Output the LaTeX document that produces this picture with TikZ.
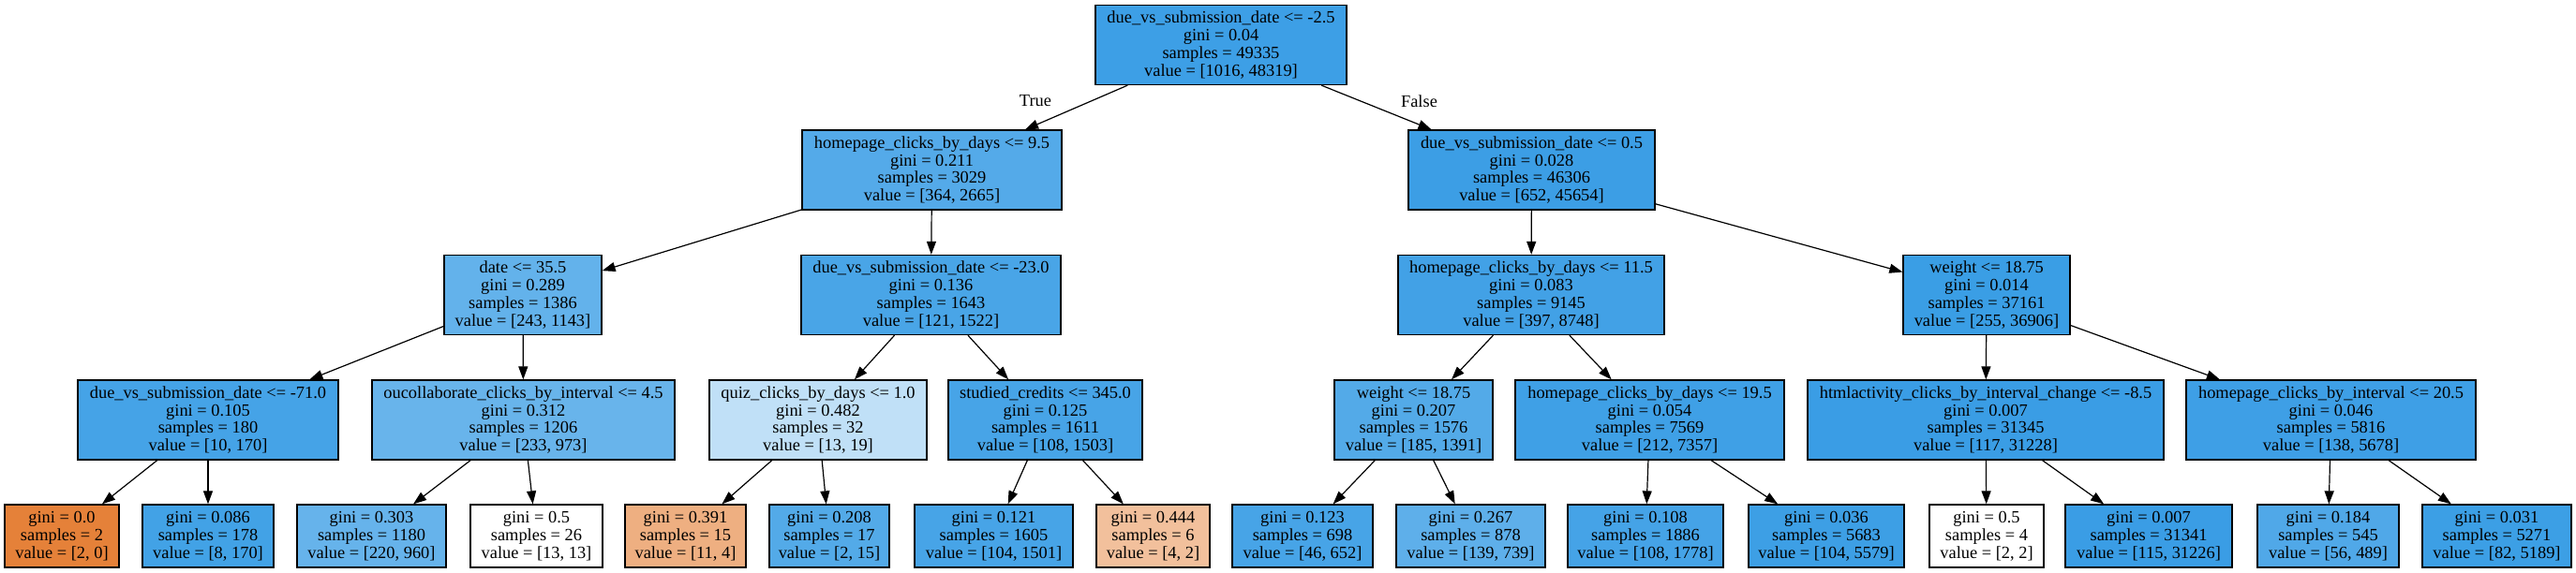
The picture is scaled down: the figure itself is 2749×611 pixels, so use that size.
\documentclass[tikz,border=0pt]{standalone}
\usepackage{fontspec}
\setmainfont{Liberation Serif}
\usetikzlibrary{arrows.meta}
\definecolor{cB}{RGB}{57,157,229}
\definecolor{cO}{RGB}{229,129,57}
\newcommand\nodefont{\fontsize{18.4}{18.9}\selectfont}
\tikzset{
  tn/.style={draw=black, line width=1.3pt, minimum height=85pt, inner sep=0pt, align=center, font=\nodefont},
  leaf/.style={tn, minimum height=67pt},
  edge/.style={line width=1.2pt, -{Triangle[length=14pt,width=10pt]}},
  elabel/.style={font=\nodefont, inner sep=0pt}
}
\begin{document}
\begin{tikzpicture}[x=1pt,y=-1pt]
\fill[white] (0,0) rectangle (2749,611);
\useasboundingbox (0,0) rectangle (2749,611);
% level 0
\node[tn, fill=cB!97.9!white, minimum width=268pt] (n0) at (1303,48) {due\_vs\_submission\_date <= -2.5\\gini = 0.04\\samples = 49335\\value = [1016, 48319]};
% level 1
\node[tn, fill=cB!86.3!white, minimum width=277pt] (n1a) at (994.5,181.5) {homepage\_clicks\_by\_days <= 9.5\\gini = 0.211\\samples = 3029\\value = [364, 2665]};
\node[tn, fill=cB!98.6!white, minimum width=263pt] (n1b) at (1634.5,181.5) {due\_vs\_submission\_date <= 0.5\\gini = 0.028\\samples = 46306\\value = [652, 45654]};
% level 2
\node[tn, fill=cB!78.7!white, minimum width=168pt] (n2a) at (558,315) {date <= 35.5\\gini = 0.289\\samples = 1386\\value = [243, 1143]};
\node[tn, fill=cB!92.0!white, minimum width=277pt] (n2b) at (993.5,315) {due\_vs\_submission\_date <= -23.0\\gini = 0.136\\samples = 1643\\value = [121, 1522]};
\node[tn, fill=cB!95.5!white, minimum width=284pt] (n2c) at (1634,315) {homepage\_clicks\_by\_days <= 11.5\\gini = 0.083\\samples = 9145\\value = [397, 8748]};
\node[tn, fill=cB!99.3!white, minimum width=178pt] (n2d) at (2120,315) {weight <= 18.75\\gini = 0.014\\samples = 37161\\value = [255, 36906]};
% level 3
\node[tn, fill=cB!94.1!white, minimum width=278pt] (n3a) at (222,448.5) {due\_vs\_submission\_date <= -71.0\\gini = 0.105\\samples = 180\\value = [10, 170]};
\node[tn, fill=cB!76.1!white, minimum width=323pt] (n3b) at (558.5,448.5) {oucollaborate\_clicks\_by\_interval <= 4.5\\gini = 0.312\\samples = 1206\\value = [233, 973]};
\node[tn, fill=cB!31.6!white, minimum width=232pt] (n3c) at (873,448.5) {quiz\_clicks\_by\_days <= 1.0\\gini = 0.482\\samples = 32\\value = [13, 19]};
\node[tn, fill=cB!92.8!white, minimum width=207pt] (n3d) at (1115.5,448.5) {studied\_credits <= 345.0\\gini = 0.125\\samples = 1611\\value = [108, 1503]};
\node[tn, fill=cB!86.7!white, minimum width=169pt] (n3e) at (1508.5,448.5) {weight <= 18.75\\gini = 0.207\\samples = 1576\\value = [185, 1391]};
\node[tn, fill=cB!97.1!white, minimum width=287pt] (n3f) at (1760.5,448.5) {homepage\_clicks\_by\_days <= 19.5\\gini = 0.054\\samples = 7569\\value = [212, 7357]};
\node[tn, fill=cB!99.6!white, minimum width=380pt] (n3g) at (2119,448.5) {htmlactivity\_clicks\_by\_interval\_change <= -8.5\\gini = 0.007\\samples = 31345\\value = [117, 31228]};
\node[tn, fill=cB!97.6!white, minimum width=309pt] (n3h) at (2487.5,448.5) {homepage\_clicks\_by\_interval <= 20.5\\gini = 0.046\\samples = 5816\\value = [138, 5678]};
% level 4
\node[leaf, fill=cO, minimum width=122pt] (l1) at (66,572.5) {gini = 0.0\\samples = 2\\value = [2, 0]};
\node[leaf, fill=cB!95.3!white, minimum width=140pt] (l2) at (222,572.5) {gini = 0.086\\samples = 178\\value = [8, 170]};
\node[leaf, fill=cB!77.1!white, minimum width=159pt] (l3) at (396.5,572.5) {gini = 0.303\\samples = 1180\\value = [220, 960]};
\node[leaf, fill=white, minimum width=141pt] (l4) at (572.5,572.5) {gini = 0.5\\samples = 26\\value = [13, 13]};
\node[leaf, fill=cO!63.6!white, minimum width=129pt] (l5) at (731.5,572.5) {gini = 0.391\\samples = 15\\value = [11, 4]};
\node[leaf, fill=cB!86.7!white, minimum width=128pt] (l6) at (885,572.5) {gini = 0.208\\samples = 17\\value = [2, 15]};
\node[leaf, fill=cB!93.1!white, minimum width=169pt] (l7) at (1060.5,572.5) {gini = 0.121\\samples = 1605\\value = [104, 1501]};
\node[leaf, fill=cO!50!white, minimum width=121pt] (l8) at (1230.5,572.5) {gini = 0.444\\samples = 6\\value = [4, 2]};
\node[leaf, fill=cB!92.9!white, minimum width=150pt] (l9) at (1390,572.5) {gini = 0.123\\samples = 698\\value = [46, 652]};
\node[leaf, fill=cB!81.2!white, minimum width=159pt] (l10) at (1569.5,572.5) {gini = 0.267\\samples = 878\\value = [139, 739]};
\node[leaf, fill=cB!93.9!white, minimum width=166pt] (l11) at (1756,572.5) {gini = 0.108\\samples = 1886\\value = [108, 1778]};
\node[leaf, fill=cB!98.1!white, minimum width=166pt] (l12) at (1949,572.5) {gini = 0.036\\samples = 5683\\value = [104, 5579]};
\node[leaf, fill=white, minimum width=122pt] (l13) at (2120,572.5) {gini = 0.5\\samples = 4\\value = [2, 2]};
\node[leaf, fill=cB!99.6!white, minimum width=178pt] (l14) at (2293,572.5) {gini = 0.007\\samples = 31341\\value = [115, 31226]};
\node[leaf, fill=cB!88.5!white, minimum width=151pt] (l15) at (2484.5,572.5) {gini = 0.184\\samples = 545\\value = [56, 489]};
\node[leaf, fill=cB!98.4!white, minimum width=159pt] (l16) at (2664.5,572.5) {gini = 0.031\\samples = 5271\\value = [82, 5189]};
% edge labels
\node[elabel] (lt) at (1105,108) {True};
\node[elabel] (lf) at (1514.5,108) {False};
% edges
\draw[edge] (n0) -- (n1a);
\draw[edge] (n0) -- (n1b);
\draw[edge] (n1a) -- (n2a);
\draw[edge] (n1a) -- (n2b);
\draw[edge] (n1b) -- (n2c);
\draw[edge] (n1b) -- (n2d);
\draw[edge] (n2a) -- (n3a);
\draw[edge] (n2a) -- (n3b);
\draw[edge] (n2b) -- (n3c);
\draw[edge] (n2b) -- (n3d);
\draw[edge] (n2c) -- (n3e);
\draw[edge] (n2c) -- (n3f);
\draw[edge] (n2d) -- (n3g);
\draw[edge] (n2d) -- (n3h);
\draw[edge] (n3a) -- (l1);
\draw[edge] (n3a) -- (l2);
\draw[edge] (n3b) -- (l3);
\draw[edge] (n3b) -- (l4);
\draw[edge] (n3c) -- (l5);
\draw[edge] (n3c) -- (l6);
\draw[edge] (n3d) -- (l7);
\draw[edge] (n3d) -- (l8);
\draw[edge] (n3e) -- (l9);
\draw[edge] (n3e) -- (l10);
\draw[edge] (n3f) -- (l11);
\draw[edge] (n3f) -- (l12);
\draw[edge] (n3g) -- (l13);
\draw[edge] (n3g) -- (l14);
\draw[edge] (n3h) -- (l15);
\draw[edge] (n3h) -- (l16);
\end{tikzpicture}
\end{document}
